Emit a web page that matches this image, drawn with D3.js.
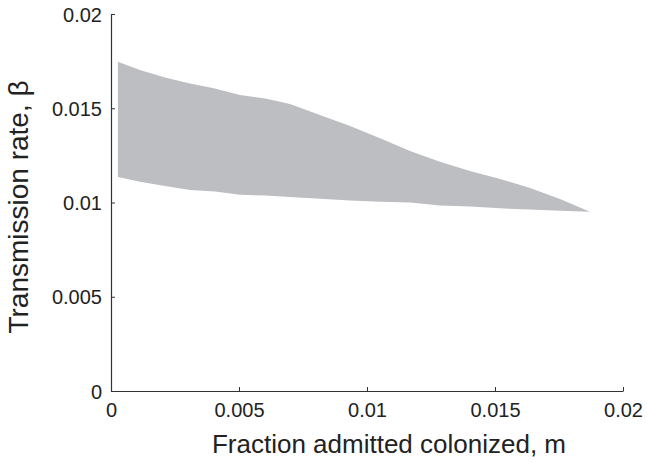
<!DOCTYPE html>
<html>
<head>
<meta charset="utf-8">
<script src="https://cdn.jsdelivr.net/npm/d3@7"></script>
<style>
  body { margin: 0; background: #fff; }
  text { font-family: "Liberation Sans", Arial, sans-serif; fill: #222; }
</style>
</head>
<body>
<svg id="chart" width="647" height="462"></svg>
<script>
// fraction admitted colonized (x) along the region
const mValues = [0.00027, 0.00113, 0.00211, 0.00309, 0.00406, 0.00504, 0.00602, 0.00699, 0.00816,
  0.00934, 0.01051, 0.01168, 0.01285, 0.01402, 0.01520, 0.01637, 0.01754, 0.01871]
// upper and lower edge of the shaded region (transmission rate)
const betaUpper = [0.01747, 0.01703, 0.01663, 0.01631, 0.01605, 0.01570, 0.01552, 0.01523, 0.01464,
  0.01406, 0.01341, 0.01273, 0.01216, 0.01167, 0.01125, 0.01077, 0.01019, 0.00951]
const betaLower = [0.01135, 0.01110, 0.01088, 0.01066, 0.01058, 0.01041, 0.01037, 0.01029, 0.01020,
  0.01011, 0.01004, 0.01000, 0.00984, 0.00979, 0.00969, 0.00963, 0.00956, 0.00951]

const xTicks = [0, 0.005, 0.01, 0.015, 0.02]
const yTicks = [0, 0.005, 0.01, 0.015, 0.02]
const xLabels = ['0', '0.005', '0.01', '0.015', '0.02']
const yLabels = ['0', '0.005', '0.01', '0.015', '0.02']

const svg = d3.select('#chart')
const axisColor = '#333'
const fillColor = '#bdbec2'

const x = d3.scaleLinear().domain([0, 0.02]).range([111, 623])
const y = d3.scaleLinear().domain([0, 0.02]).range([391, 14])

const region = mValues.map((m, i) => ({ m: m, hi: betaUpper[i], lo: betaLower[i] }))

// shaded region
svg.append('path')
  .datum(region)
  .attr('fill', fillColor)
  .attr('d', d3.area()
    .x(d => x(d.m))
    .y0(d => y(d.lo))
    .y1(d => y(d.hi)))

// x axis, ticks pointing inward
const gx = svg.append('g')
  .attr('transform', `translate(0,${y(0)})`)
  .call(d3.axisBottom(x).tickValues(xTicks).tickSizeInner(-4).tickSizeOuter(0)
    .tickFormat((d, i) => xLabels[i]))
gx.select('.domain').attr('stroke', axisColor).attr('stroke-width', 1.2)
gx.selectAll('.tick line').attr('stroke', axisColor)
gx.selectAll('.tick text')
  .attr('y', 26)
  .attr('dy', 0)
  .style('font-size', '20px')
  .style('font-family', '"Liberation Sans", Arial, sans-serif')
  .attr('fill', '#222')

// y axis
const gy = svg.append('g')
  .attr('transform', `translate(${x(0)},0)`)
  .call(d3.axisLeft(y).tickValues(yTicks).tickSizeInner(-4).tickSizeOuter(0)
    .tickFormat((d, i) => yLabels[i]))
gy.select('.domain').attr('stroke', axisColor).attr('stroke-width', 1.2)
gy.selectAll('.tick line').attr('stroke', axisColor)
gy.selectAll('.tick text')
  .attr('x', -9)
  .attr('dy', 7)
  .style('font-size', '20px')
  .style('font-family', '"Liberation Sans", Arial, sans-serif')
  .attr('fill', '#222')

// axis titles
svg.append('text')
  .attr('x', 389)
  .attr('y', 453)
  .attr('text-anchor', 'middle')
  .style('font-size', '26px')
  .text('Fraction admitted colonized, m')

svg.append('text')
  .attr('transform', 'translate(28,207) rotate(-90)')
  .attr('text-anchor', 'middle')
  .style('font-size', '28px')
  .text('Transmission rate, β')
</script>
</body>
</html>
